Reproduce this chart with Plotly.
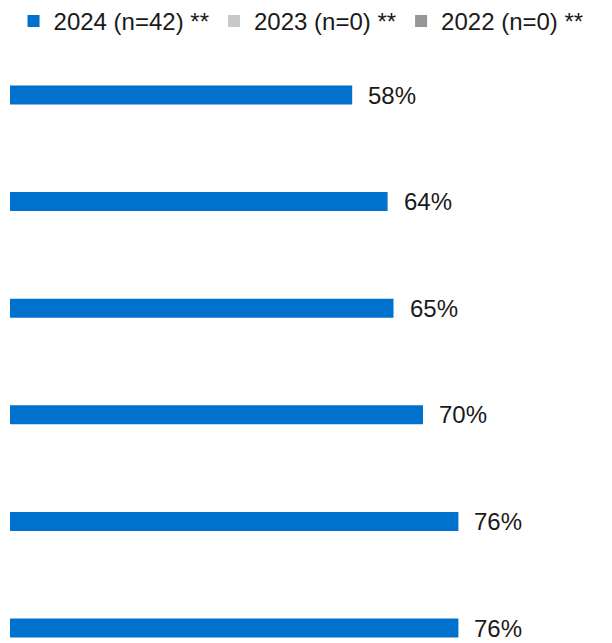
import plotly.graph_objects as go

categories = ["Item 1", "Item 2", "Item 3", "Item 4", "Item 5", "Item 6"]
values_2024 = [0.58, 0.64, 0.65, 0.70, 0.76, 0.76]
values_2023 = [0, 0, 0, 0, 0, 0]
values_2022 = [0, 0, 0, 0, 0, 0]
series_names = ["2024 (n=42) **", "2023 (n=0) **", "2022 (n=0) **"]
colors = ["#0072CE", "#C8C8C8", "#969696"]

FONT = "Liberation Sans, Arial, sans-serif"

fig = go.Figure()
for name, vals, col in zip(series_names, [values_2024, values_2023, values_2022], colors):
    fig.add_trace(go.Bar(
        y=categories, x=vals, name=name, orientation="h",
        marker=dict(color=col, line=dict(width=0)),
        hoverinfo="x+name",
    ))

for cat, v in zip(categories, values_2024):
    fig.add_annotation(
        x=v, y=cat, xref="x", yref="y", text=f"{round(v*100)}%",
        showarrow=False, xanchor="left", yanchor="middle",
        xshift=14, yshift=19,
        font=dict(family=FONT, size=24, color="#1a1a1a"),
    )

fig.update_layout(
    width=612, height=643,
    margin=dict(l=2, r=20, t=52, b=0),
    paper_bgcolor="white", plot_bgcolor="white",
    barmode="group", bargap=0.465, bargroupgap=0,
    font=dict(family=FONT, size=24, color="#1a1a1a"),
    showlegend=True,
    legend=dict(
        orientation="h", x=0.006, xanchor="left",
        yref="container", y=0.979, yanchor="middle",
        font=dict(family=FONT, size=24, color="#1a1a1a"),
        itemwidth=30, traceorder="normal",
        bgcolor="rgba(0,0,0,0)",
    ),
    xaxis=dict(range=[0, 1], visible=False, fixedrange=True),
    yaxis=dict(
        type="category", categoryorder="array", categoryarray=categories,
        range=[5.0375, -0.5066], showticklabels=False, showgrid=False,
        zeroline=False, showline=False, ticks="", fixedrange=True,
    ),
)

fig.write_html("out.html")
